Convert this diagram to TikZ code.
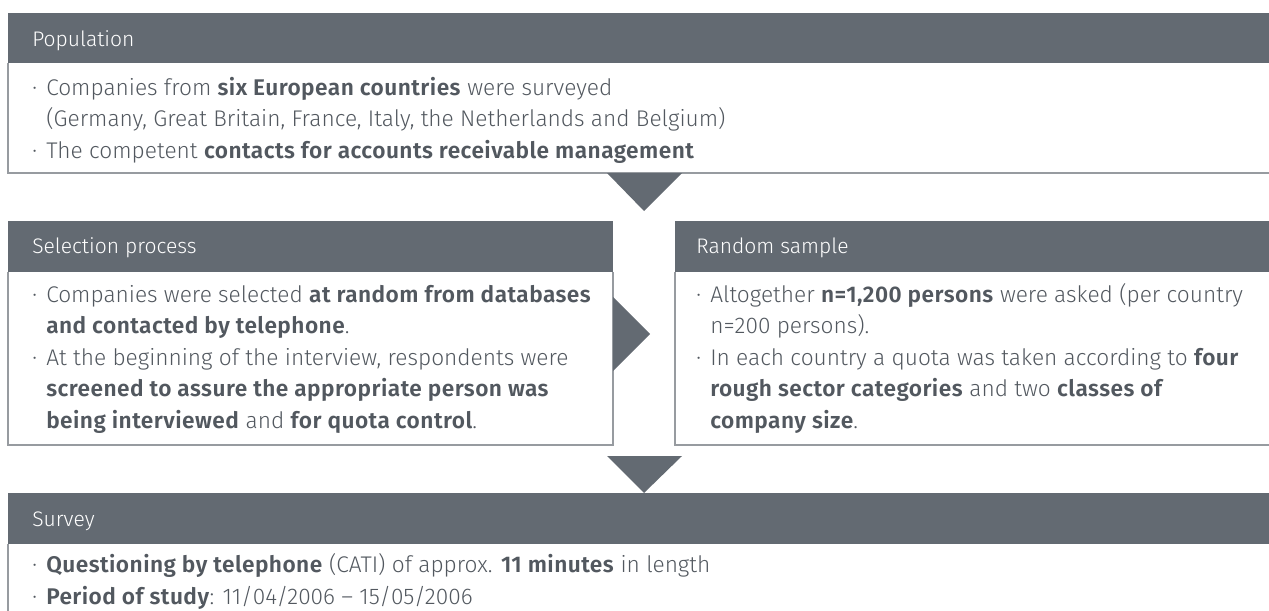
\documentclass[tikz,border=0pt]{standalone}
\usepackage{fontspec}
\setmainfont{Fira Sans Light}[BoldFont={Fira Sans SemiBold}, BoldFeatures={LetterSpace=2}]
\usetikzlibrary{positioning}
\definecolor{hdgray}{HTML}{636A72}
\definecolor{txgray}{HTML}{52585F}
\definecolor{lngray}{HTML}{979BA0}

\newcommand{\dotitem}{\makebox[10.5pt][l]{·}}
\newcommand{\dotgap}{\hspace*{10.5pt}}

\begin{document}
\begin{tikzpicture}[x=0.75pt, y=-0.75pt,
  hdlbl/.style={anchor=base west, inner sep=0pt, text=white, font=\fontsize{15.8}{23.6}\selectfont},
  bodytxt/.style={anchor=base west, inner sep=0pt, text=txgray, align=left,
                  font=\fontsize{17}{23.6}\selectfont},
  frame/.style={draw=lngray, line width=1.1pt},
  marker/.style={fill=hdgray},
]
\useasboundingbox (0,0) rectangle (1269,610);

% Header bars
\fill[hdgray] (8,13)    rectangle (1269,63);
\fill[hdgray] (8,221)   rectangle (613,272);
\fill[hdgray] (675,221) rectangle (1269,272);
\fill[hdgray] (8,493)   rectangle (1269,544);

% Box frames (open to the right and below where the page cuts them)
\draw[frame] (8,63) -- (8,173) -- (1269,173);
\draw[frame] (8,272) -- (8,445) -- (613,445) -- (613,272);
\draw[frame] (675,272) -- (675,445) -- (1269,445);
\draw[frame] (8,544) -- (8,611);

% Flow markers
\fill[marker] (607,173) -- (682,173) -- (644,211) -- cycle;
\fill[marker] (613,297) -- (650,334) -- (613,371) -- cycle;
\fill[marker] (607,456) -- (682,456) -- (644,493) -- cycle;

% Header labels
\node[hdlbl] (poplbl) at (32,46)  {Population};
\node[hdlbl] (sellbl) at (32,253) {Selection process};
\node[hdlbl] (rndlbl) at (696,253) {Random sample};
\node[hdlbl] (srvlbl) at (32,526) {Survey};

% Body texts (anchored at the baseline of their last line)
\node[bodytxt] (poptxt) at (32,158) {%
  \dotitem Companies from \textbf{six European countries} were surveyed\\
  \dotgap (Germany, Great Britain, France, Italy, the Netherlands and Belgium)\\
  \dotitem The competent \textbf{contacts for accounts receivable management}};

\node[bodytxt] (seltxt) at (32,428) {%
  \dotitem Companies were selected \textbf{at random from databases}\\
  \dotgap \textbf{and contacted by telephone}.\\
  \dotitem At the beginning of the interview, respondents were\\
  \dotgap \textbf{screened to assure the appropriate person was}\\
  \dotgap \textbf{being interviewed} and \textbf{for quota control}.};

\node[bodytxt] (rndtxt) at (696,428) {%
  \dotitem Altogether \textbf{n=1,200 persons} were asked (per country\\
  \dotgap n=200 persons).\\
  \dotitem In each country a quota was taken according to \textbf{four}\\
  \dotgap \textbf{rough sector categories} and two \textbf{classes of}\\
  \dotgap \textbf{company size}.};

\node[bodytxt] (srvtxt) at (32,604) {%
  \dotitem \textbf{Questioning by telephone} (CATI) of approx. \textbf{11 minutes} in length\\
  \dotitem \textbf{Period of study}: 11/04/2006 -- 15/05/2006};

\end{tikzpicture}
\end{document}
